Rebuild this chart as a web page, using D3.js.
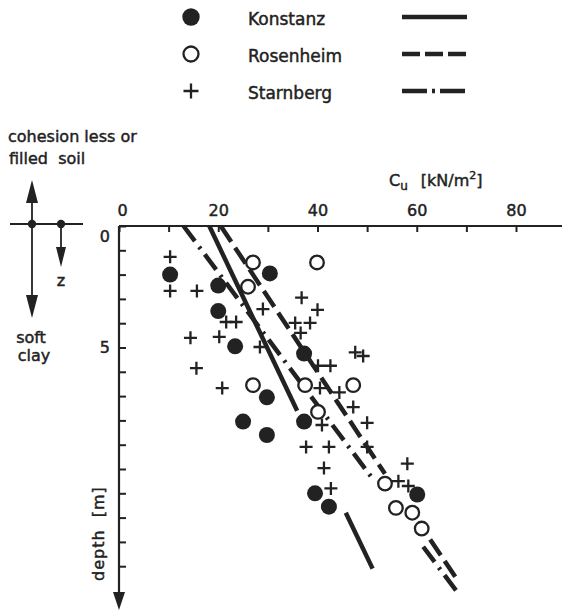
<!DOCTYPE html>
<html>
<head>
<meta charset="utf-8">
<script src="https://cdn.jsdelivr.net/npm/d3@7"></script>
<style>
body { margin: 0; background: #fff; }
svg { display: block; }
text { font-family: "DejaVu Sans", sans-serif; fill: #222; stroke: #222; stroke-width: 0.45px; white-space: pre; }
</style>
</head>
<body>
<svg width="562" height="612"></svg>
<script>
// measured points: [cu (kN/m2), depth (m)]
var konstanz = [[10.3, 2.0], [20.0, 2.45], [20.0, 3.5], [23.4, 4.95], [30.4, 1.95], [37.3, 5.25],
    [29.8, 7.05], [25.0, 8.05], [29.8, 8.6], [37.3, 8.05], [39.5, 11.0], [42.3, 11.55], [60.1, 11.05]];
var rosenheim = [[27.0, 1.5], [26.0, 2.5], [39.9, 1.5], [27.0, 6.55], [37.5, 6.55], [47.2, 6.55],
    [40.1, 7.65], [53.6, 10.6], [55.8, 11.6], [59.1, 11.8], [61.0, 12.45]];
var starnberg = [[10.3, 1.27], [10.3, 2.67], [15.7, 2.67], [29.0, 3.42], [36.8, 2.95], [40.0, 3.45],
    [21.6, 3.95], [23.6, 3.95], [35.5, 3.99], [38.5, 3.99], [36.6, 4.4], [14.4, 4.6], [20.2, 4.56],
    [28.4, 4.98], [15.6, 5.85], [40.1, 5.75], [42.6, 5.75], [47.6, 5.2], [49.2, 5.35], [20.8, 6.67],
    [40.5, 6.67], [44.4, 6.85], [47.2, 7.45], [50.0, 8.1], [40.9, 8.19], [37.7, 9.09], [42.3, 9.09],
    [50.0, 9.09], [41.3, 9.96], [58.1, 9.78], [42.7, 10.8], [56.3, 10.5], [58.3, 10.7]];

// fitted lines, drawn in pieces (gaps left where the points crowd)
var konstanzFit = [[[18.2, 0], [35.9, 7.6]], [[45.7, 11.8], [51.1, 14.1]]];
var rosenheimFit = [[[20.5, 0], [53.6, 10.2]], [[62.7, 12.9], [68.3, 14.6]]];
var starnbergFit = [[[13.0, 0], [51.1, 10.4]], [[61.3, 13.2], [68.3, 15.1]]];

var xTicks = [0, 10, 20, 30, 40, 50, 60, 70, 80];
var xLabels = [0, 20, 40, 60, 80];
var yTicks = [0, 1, 2, 3, 4, 5, 6, 7, 8, 9, 10, 11, 12, 13, 14];
var yLabels = [0, 5];
var seriesNames = ["Konstanz", "Rosenheim", "Starnberg"];

var ink = "#222";
var svg = d3.select("svg");

var x = d3.scaleLinear().domain([0, 80]).range([119, 516]);
var y = d3.scaleLinear().domain([0, 14]).range([226, 566.2]);

var dashes = ["none", "19,7", "19,7,2.5,7"];

//////////// AXES ////////////

var xAxis = svg.append("g")
    .attr("transform", "translate(0," + y(0) + ")")
    .call(d3.axisTop(x).tickValues(xTicks).tickSizeInner(-6).tickSizeOuter(0).tickPadding(10)
        .tickFormat((d) => xLabels.indexOf(d) >= 0 ? d : ""));
xAxis.select(".domain").remove();
xAxis.selectAll("line").attr("stroke", ink).attr("stroke-width", 2);
xAxis.selectAll("text").attr("font-size", 16).attr("font-family", "DejaVu Sans").attr("fill", ink);
xAxis.selectAll("text").filter((d) => d === 0).attr("dx", 3);

var yAxis = svg.append("g")
    .attr("transform", "translate(" + x(0) + ",0)")
    .call(d3.axisLeft(y).tickValues(yTicks).tickSizeInner(-7).tickSizeOuter(0).tickPadding(9)
        .tickFormat((d) => yLabels.indexOf(d) >= 0 ? d : ""));
yAxis.select(".domain").remove();
yAxis.selectAll("line").attr("stroke", ink).attr("stroke-width", 2);
yAxis.selectAll("text").attr("font-size", 16).attr("font-family", "DejaVu Sans").attr("fill", ink);
yAxis.selectAll("text").filter((d) => d === 0).attr("dy", "0.95em");

// axis lines
svg.append("line").attr("x1", x(0)).attr("x2", 562).attr("y1", y(0)).attr("y2", y(0))
    .attr("stroke", ink).attr("stroke-width", 2.2);
svg.append("line").attr("x1", x(0)).attr("x2", x(0)).attr("y1", y(0)).attr("y2", 596)
    .attr("stroke", ink).attr("stroke-width", 2.2);
svg.append("path").attr("d", `M ${x(0) - 6} 592 L ${x(0) + 6} 592 L ${x(0)} 610 Z`).attr("fill", ink);

// axis titles
var cuTitle = svg.append("text").attr("x", 389).attr("y", 186).attr("font-size", 16);
cuTitle.append("tspan").text("C");
cuTitle.append("tspan").attr("font-size", 12).attr("dy", 4).text("u");
cuTitle.append("tspan").attr("dy", -4).attr("dx", 13).text("[kN/m");
cuTitle.append("tspan").attr("font-size", 11).attr("dy", -7).text("2");
cuTitle.append("tspan").attr("dy", 7).text("]");

svg.append("text")
    .attr("transform", "translate(104,581) rotate(-90)")
    .attr("font-size", 16)
    .attr("letter-spacing", 1)
    .text("depth  [m]");

//////////// FIT LINES ////////////

var line = d3.line().x((d) => x(d[0])).y((d) => y(d[1]));
[konstanzFit, rosenheimFit, starnbergFit].forEach(function (fit, i) {
    svg.append("g").selectAll("path")
        .data(fit)
        .enter().append("path")
        .attr("d", line)
        .attr("fill", "none")
        .attr("stroke", ink)
        .attr("stroke-width", 4.5)
        .attr("stroke-dasharray", dashes[i]);
});

//////////// POINTS ////////////

function drawMarker(g, kind, size) {
    if (kind === 0) {
        g.append("circle").attr("r", size).attr("fill", ink);
    } else if (kind === 1) {
        g.append("circle").attr("r", size - 1.2).attr("fill", "#fff")
            .attr("stroke", ink).attr("stroke-width", 2.3);
    } else {
        g.append("path").attr("d", `M ${-size} 0 H ${size} M 0 ${-size} V ${size}`)
            .attr("stroke", ink).attr("stroke-width", 2.3).attr("fill", "none");
    }
}

[starnberg, rosenheim, konstanz].forEach(function (pts, j) {
    var kind = 2 - j;
    svg.append("g").selectAll("g")
        .data(pts)
        .enter().append("g")
        .attr("transform", (d) => `translate(${x(d[0])},${y(d[1])})`)
        .each(function () { drawMarker(d3.select(this), kind, kind === 2 ? 6.5 : 8); });
});

//////////// LEGEND ////////////

var legendY = [17, 54, 91];
seriesNames.forEach(function (name, i) {
    var g = svg.append("g").attr("transform", "translate(191," + legendY[i] + ")");
    drawMarker(g, i, i === 2 ? 7.5 : 8.7);
    svg.append("text").attr("x", 248).attr("y", legendY[i] + 8).attr("font-size", 17).text(name);
    svg.append("line").attr("x1", 402).attr("x2", 467).attr("y1", legendY[i]).attr("y2", legendY[i])
        .attr("stroke", ink).attr("stroke-width", 4.5)
        .attr("stroke-dasharray", i === 1 ? "18,5" : (i === 2 ? "25,5,3,5" : "none"));
});

//////////// SCHEMATIC ////////////

svg.append("text").attr("x", 8).attr("y", 142).attr("font-size", 16).text("cohesion less or");
svg.append("text").attr("x", 9).attr("y", 164).attr("font-size", 16).text("filled  soil");

var sk = svg.append("g").attr("stroke", ink).attr("fill", ink);
sk.append("line").attr("x1", 10).attr("x2", 83).attr("y1", 224).attr("y2", 224).attr("stroke-width", 1.8);
sk.append("line").attr("x1", 32).attr("x2", 32).attr("y1", 200).attr("y2", 298).attr("stroke-width", 1.8);
sk.append("line").attr("x1", 61).attr("x2", 61).attr("y1", 224).attr("y2", 250).attr("stroke-width", 1.8);
sk.append("path").attr("d", "M 26 203 L 38 203 L 32 180 Z").attr("stroke", "none");
sk.append("path").attr("d", "M 26 295 L 38 295 L 32 318 Z").attr("stroke", "none");
sk.append("path").attr("d", "M 56 247 L 66 247 L 61 267 Z").attr("stroke", "none");
sk.append("circle").attr("cx", 32).attr("cy", 224).attr("r", 4.2).attr("stroke", "none");
sk.append("circle").attr("cx", 61).attr("cy", 224).attr("r", 4.2).attr("stroke", "none");

svg.append("text").attr("x", 61).attr("y", 286).attr("font-size", 16).attr("text-anchor", "middle").text("z");
svg.append("text").attr("x", 31).attr("y", 343).attr("font-size", 16).attr("text-anchor", "middle").text("soft");
svg.append("text").attr("x", 34).attr("y", 361).attr("font-size", 16).attr("text-anchor", "middle").text("clay");
</script>
</body>
</html>
